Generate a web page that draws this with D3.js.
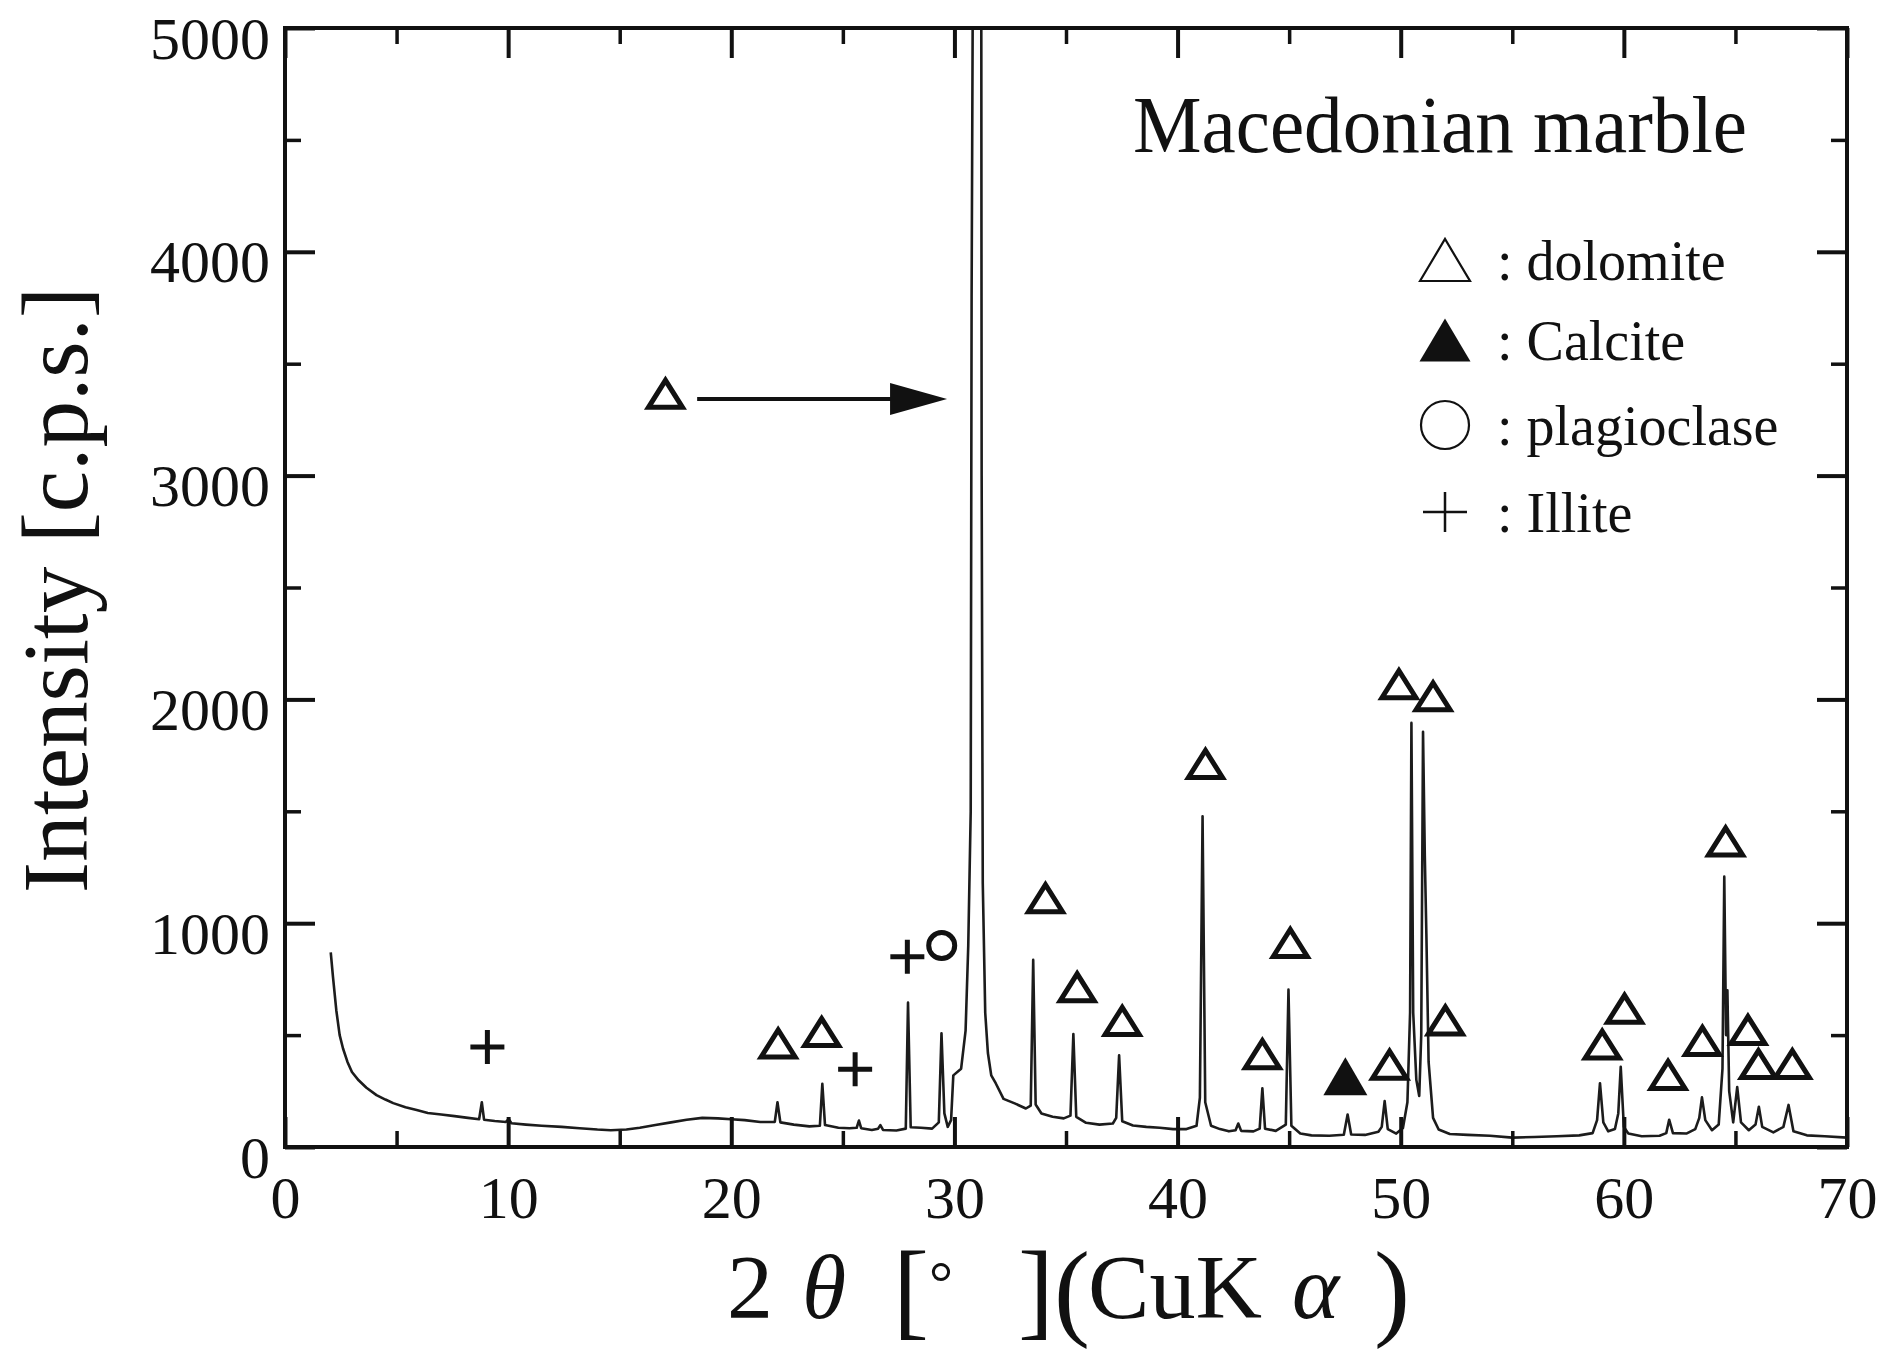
<!DOCTYPE html>
<html>
<head>
<meta charset="utf-8">
<script src="https://cdn.jsdelivr.net/npm/d3@7"></script>
<style>
  html, body { margin: 0; padding: 0; background: #fff; }
  svg { display: block; }
  text { font-family: "Liberation Serif", "Times New Roman", serif; fill: #111; }
</style>
</head>
<body>
<div id="chart"></div>
<script>
// XRD pattern: [2theta (deg), intensity (c.p.s.)]
const trace = [
  [2.05, 870], [2.15, 760], [2.3, 610], [2.45, 500], [2.6, 440], [2.8, 380], [3.0, 335],
  [3.3, 298], [3.65, 265], [4.1, 232], [4.5, 212], [4.85, 196], [5.4, 178], [5.9, 165],
  [6.4, 152], [7.0, 145], [7.6, 138], [8.2, 130], [8.7, 124], [8.82, 200], [8.92, 122],
  [9.4, 116], [9.9, 112], [10.02, 125], [10.15, 106], [10.8, 100], [11.5, 95], [12.4, 90],
  [13.2, 84], [14.0, 78], [14.6, 75], [15.3, 78], [15.9, 86], [16.6, 98], [17.3, 110],
  [18.0, 122], [18.7, 130], [19.4, 128], [20.0, 124], [20.6, 120], [21.3, 112], [21.95, 112],
  [22.07, 200], [22.2, 110], [22.8, 100], [23.5, 92], [23.97, 95], [24.08, 282], [24.2, 98],
  [24.8, 86], [25.3, 84], [25.62, 86], [25.72, 118], [25.82, 84], [26.3, 76], [26.58, 82],
  [26.68, 98], [26.8, 76], [27.4, 74], [27.82, 82], [27.92, 645], [28.04, 88], [28.5, 86],
  [29.0, 82], [29.3, 110], [29.42, 508], [29.55, 150], [29.7, 90], [29.85, 120], [29.95, 320],
  [30.3, 350], [30.5, 520], [30.62, 900], [30.73, 1500], [30.77, 3800], [30.84, 5600],
  [31.02, 9000], [31.2, 5600], [31.22, 3000], [31.27, 1180], [31.38, 600], [31.5, 420],
  [31.65, 320], [31.85, 285], [32.2, 215], [32.7, 195], [33.2, 172], [33.42, 185], [33.53, 836],
  [33.64, 190], [33.9, 150], [34.4, 135], [34.9, 128], [35.2, 140], [35.33, 505], [35.46, 135],
  [35.9, 108], [36.5, 100], [37.1, 105], [37.25, 130], [37.38, 410], [37.52, 115], [38.0, 96],
  [38.6, 90], [39.2, 86], [39.8, 80], [40.4, 80], [40.85, 95], [41.0, 220], [41.12, 1478],
  [41.24, 200], [41.5, 95], [41.9, 80], [42.3, 70], [42.6, 75], [42.72, 105], [42.85, 72],
  [43.4, 70], [43.68, 82], [43.8, 262], [43.92, 82], [44.4, 72], [44.85, 100], [44.97, 703],
  [45.1, 95], [45.5, 60], [46.0, 52], [46.8, 50], [47.45, 55], [47.62, 145], [47.78, 56],
  [48.4, 54], [49.0, 68], [49.15, 90], [49.28, 205], [49.42, 80], [49.8, 60], [50.1, 85],
  [50.3, 200], [50.42, 600], [50.48, 1895], [50.56, 600], [50.7, 300], [50.83, 228],
  [50.92, 500], [51.0, 1855], [51.08, 1300], [51.15, 950], [51.25, 380], [51.45, 130],
  [51.7, 78], [52.2, 58], [53.0, 54], [54.0, 50], [55.0, 42], [56.0, 45], [57.0, 48],
  [58.0, 52], [58.6, 62], [58.8, 120], [58.93, 285], [59.08, 110], [59.3, 70], [59.6, 80],
  [59.75, 150], [59.86, 358], [60.0, 90], [60.2, 60], [60.8, 48], [61.6, 50], [61.9, 62],
  [62.03, 122], [62.2, 62], [62.8, 60], [63.2, 80], [63.38, 130], [63.5, 222], [63.65, 120],
  [63.95, 75], [64.25, 100], [64.42, 350], [64.5, 1208], [64.58, 500], [64.64, 700],
  [64.72, 250], [64.9, 110], [65.08, 268], [65.25, 110], [65.6, 75], [65.9, 100], [66.05, 180],
  [66.2, 90], [66.7, 65], [67.15, 90], [67.38, 188], [67.6, 70], [68.2, 52], [69.0, 48],
  [70.0, 42]
];

// phase labels placed over the peaks: [2theta, intensity]
const dolomiteMarks = [
  [17.05, 3370], [22.1, 467], [24.05, 518], [34.08, 1116], [35.5, 718], [37.52, 568],
  [41.25, 1716], [43.8, 419], [45.05, 916], [49.5, 372], [49.92, 2072], [51.45, 2018],
  [52.0, 570], [59.03, 462], [60.03, 622], [61.98, 326], [63.52, 478], [64.56, 1370],
  [65.56, 527], [66.03, 375], [67.55, 375]
];
const calciteMarks = [[47.52, 316]];
const plagioclaseMarks = [[29.43, 900]];
const illiteMarks = [[9.07, 447], [25.55, 347], [27.89, 850]];
const arrowFrom = [18.47, 3342];
const arrowTo = [29.67, 3342];

const xMajor = [0, 10, 20, 30, 40, 50, 60, 70];
const xMinor = [5, 15, 25, 35, 45, 55, 65];
const yMajor = [0, 1000, 2000, 3000, 4000, 5000];
const yMinor = [500, 1500, 2500, 3500, 4500];

const legendLabels = [': dolomite', ': Calcite', ': plagioclase', ': Illite'];
const legendShapes = ['open', 'filled', 'circle', 'plus'];
const chartTitle = 'Macedonian marble';
const yTitle = 'Intensity [c.p.s.]';

const width = 1887, height = 1350;
const x = d3.scaleLinear().domain([0, 70]).range([285, 1847]);
const y = d3.scaleLinear().domain([0, 5000]).range([1147, 28]);
const ink = '#111';
const serif = '"Liberation Serif", "Times New Roman", serif';

const svg = d3.select('#chart').append('svg')
  .attr('width', width)
  .attr('height', height);

svg.append('rect').attr('width', width).attr('height', height).attr('fill', '#fff');

svg.append('clipPath').attr('id', 'plot-clip')
  .append('rect')
  .attr('x', x(0)).attr('y', y(5000))
  .attr('width', x(70) - x(0)).attr('height', y(0) - y(5000));

// pattern
const line = d3.line().x(d => x(d[0])).y(d => y(d[1]));
svg.append('path')
  .datum(trace)
  .attr('clip-path', 'url(#plot-clip)')
  .attr('d', line)
  .attr('fill', 'none')
  .attr('stroke', '#1c1c1c')
  .attr('stroke-width', 2.6)
  .attr('stroke-linejoin', 'round');

// ticks on all four sides, pointing inwards
function cleanAxis(g, w) {
  g.select('.domain').remove();
  g.selectAll('.tick line').attr('stroke', ink).attr('stroke-width', w);
  g.attr('font-size', 60).attr('font-family', serif);
  g.selectAll('.tick text').attr('fill', ink);
}
const major = 30, minor = 16;
const fmt = d3.format('d');

svg.append('g')
  .attr('transform', `translate(0,${y(0)})`)
  .call(d3.axisBottom(x).tickValues(xMajor).tickSize(-major).tickSizeOuter(0).tickPadding(28).tickFormat(fmt))
  .call(g => cleanAxis(g, 4));
svg.append('g')
  .attr('transform', `translate(0,${y(0)})`)
  .call(d3.axisBottom(x).tickValues(xMinor).tickSize(-minor).tickSizeOuter(0).tickFormat(''))
  .call(g => cleanAxis(g, 3.5));
svg.append('g')
  .attr('transform', `translate(0,${y(5000)})`)
  .call(d3.axisTop(x).tickValues(xMajor).tickSize(-major).tickSizeOuter(0).tickFormat(''))
  .call(g => cleanAxis(g, 4));
svg.append('g')
  .attr('transform', `translate(0,${y(5000)})`)
  .call(d3.axisTop(x).tickValues(xMinor).tickSize(-minor).tickSizeOuter(0).tickFormat(''))
  .call(g => cleanAxis(g, 3.5));

svg.append('g')
  .attr('transform', `translate(${x(0)},0)`)
  .call(d3.axisLeft(y).tickValues(yMajor).tickSize(-major).tickSizeOuter(0).tickPadding(15).tickFormat(fmt))
  .call(g => cleanAxis(g, 4))
  .call(g => g.selectAll('.tick text').attr('dy', '0.5em'));
svg.append('g')
  .attr('transform', `translate(${x(0)},0)`)
  .call(d3.axisLeft(y).tickValues(yMinor).tickSize(-minor).tickSizeOuter(0).tickFormat(''))
  .call(g => cleanAxis(g, 3.5));
svg.append('g')
  .attr('transform', `translate(${x(70)},0)`)
  .call(d3.axisRight(y).tickValues(yMajor).tickSize(-major).tickSizeOuter(0).tickFormat(''))
  .call(g => cleanAxis(g, 4));
svg.append('g')
  .attr('transform', `translate(${x(70)},0)`)
  .call(d3.axisRight(y).tickValues(yMinor).tickSize(-minor).tickSizeOuter(0).tickFormat(''))
  .call(g => cleanAxis(g, 3.5));

// frame
svg.append('rect')
  .attr('x', x(0)).attr('y', y(5000))
  .attr('width', x(70) - x(0)).attr('height', y(0) - y(5000))
  .attr('fill', 'none')
  .attr('stroke', ink)
  .attr('stroke-width', 4);

// marker shapes
function triPath(cx, cy, w, h) {
  return `M${cx - w / 2},${cy + h / 2}L${cx},${cy - h / 2}L${cx + w / 2},${cy + h / 2}Z`;
}
function plusPath(cx, cy, w, h) {
  return `M${cx - w / 2},${cy}H${cx + w / 2}M${cx},${cy - h / 2}V${cy + h / 2}`;
}

const marks = svg.append('g');
marks.selectAll('path.dol')
  .data(dolomiteMarks)
  .enter().append('path')
  .attr('class', 'dol')
  .attr('d', d => triPath(x(d[0]), y(d[1]) + 1, 34, 27))
  .attr('fill', 'none')
  .attr('stroke', ink)
  .attr('stroke-width', 5)
  .attr('stroke-linejoin', 'miter');

marks.selectAll('path.cal')
  .data(calciteMarks)
  .enter().append('path')
  .attr('class', 'cal')
  .attr('d', d => triPath(x(d[0]), y(d[1]), 44, 38))
  .attr('fill', ink);

marks.selectAll('circle.pla')
  .data(plagioclaseMarks)
  .enter().append('circle')
  .attr('class', 'pla')
  .attr('cx', d => x(d[0]))
  .attr('cy', d => y(d[1]))
  .attr('r', 13)
  .attr('fill', 'none')
  .attr('stroke', ink)
  .attr('stroke-width', 5);

marks.selectAll('path.ill')
  .data(illiteMarks)
  .enter().append('path')
  .attr('class', 'ill')
  .attr('d', d => plusPath(x(d[0]), y(d[1]), 34, 34))
  .attr('fill', 'none')
  .attr('stroke', ink)
  .attr('stroke-width', 5);

// arrow pointing at the main dolomite peak
const ax0 = x(arrowFrom[0]), ax1 = x(arrowTo[0]), ay = y(arrowTo[1]);
svg.append('line')
  .attr('x1', ax0).attr('x2', ax1 - 50)
  .attr('y1', ay).attr('y2', ay)
  .attr('stroke', ink)
  .attr('stroke-width', 4);
svg.append('path')
  .attr('d', `M${ax1},${ay}L${ax1 - 57},${ay - 16}L${ax1 - 57},${ay + 16}Z`)
  .attr('fill', ink);

// title
svg.append('text')
  .attr('x', 1133)
  .attr('y', 152)
  .attr('font-size', 80)
  .attr('textLength', 614)
  .attr('lengthAdjust', 'spacingAndGlyphs')
  .text(chartTitle);

// legend
const legendRowY = [260, 340, 425, 512];
const legend = svg.append('g');
legendShapes.forEach((shape, i) => {
  const cy = legendRowY[i];
  const cx = 1445;
  if (shape === 'open') {
    legend.append('path').attr('d', triPath(cx, cy, 50, 42))
      .attr('fill', 'none').attr('stroke', ink).attr('stroke-width', 2.2);
  } else if (shape === 'filled') {
    legend.append('path').attr('d', triPath(cx, cy, 51, 43)).attr('fill', ink);
  } else if (shape === 'circle') {
    legend.append('circle').attr('cx', cx).attr('cy', cy).attr('r', 24)
      .attr('fill', 'none').attr('stroke', ink).attr('stroke-width', 2.2);
  } else {
    legend.append('path').attr('d', plusPath(cx, cy, 44, 40))
      .attr('fill', 'none').attr('stroke', ink).attr('stroke-width', 2.5);
  }
  legend.append('text')
    .attr('x', 1497)
    .attr('y', cy + 20)
    .attr('font-size', 56)
    .text(legendLabels[i]);
});

// axis titles
svg.append('text')
  .attr('transform', 'translate(87,590) rotate(-90)')
  .attr('text-anchor', 'middle')
  .attr('font-size', 94)
  .attr('textLength', 606)
  .attr('lengthAdjust', 'spacingAndGlyphs')
  .text(yTitle);

// x title set piece by piece: wide spacing and oversized brackets as in the figure
const xTitleParts = [
  { t: '2', x: 727, y: 1318, size: 90, len: 46 },
  { t: 'θ', x: 802, y: 1318, size: 90, italic: true },
  { t: '[', x: 893, y: 1326, size: 108 },
  { t: '°', x: 929, y: 1303, size: 60 },
  { t: ']', x: 1018, y: 1326, size: 108 },
  { t: '(', x: 1054, y: 1326, size: 108 },
  { t: 'CuK', x: 1088, y: 1318, size: 90, len: 174 },
  { t: 'α', x: 1292, y: 1318, size: 90, italic: true },
  { t: ')', x: 1374, y: 1326, size: 108 }
];
const xTitle = svg.append('g');
xTitleParts.forEach(p => {
  const t = xTitle.append('text')
    .attr('x', p.x)
    .attr('y', p.y)
    .attr('font-size', p.size)
    .attr('font-style', p.italic ? 'italic' : null)
    .text(p.t);
  if (p.len) t.attr('textLength', p.len).attr('lengthAdjust', 'spacingAndGlyphs');
});
</script>
</body>
</html>
